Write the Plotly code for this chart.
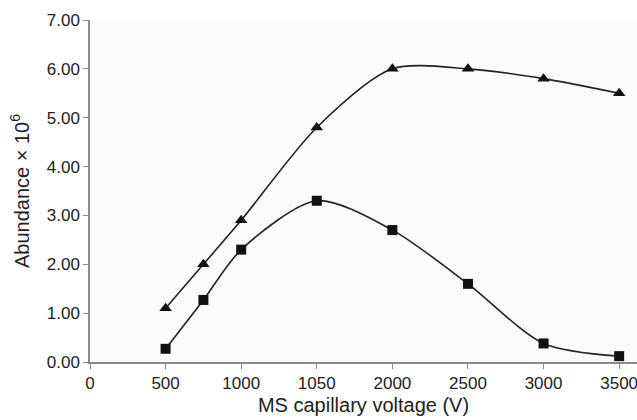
import plotly.graph_objects as go

# Capillary voltage settings (V) and measured abundances (x 10^6)
voltage = [500, 750, 1000, 1500, 2000, 2500, 3000, 3500]
abundance_triangle = [1.10, 2.00, 2.90, 4.80, 6.00, 6.00, 5.80, 5.50]
abundance_square = [0.27, 1.27, 2.30, 3.30, 2.70, 1.60, 0.38, 0.12]

x_tick_values = [0, 500, 1000, 1500, 2000, 2500, 3000, 3500]
x_tick_labels = ["0", "500", "1000", "1050", "2000", "2500", "3000", "3500"]
y_tick_values = [0, 1, 2, 3, 4, 5, 6, 7]
y_tick_labels = ["0.00", "1.00", "2.00", "3.00", "4.00", "5.00", "6.00", "7.00"]

FONT = "Liberation Sans, Arial, sans-serif"

fig = go.Figure()
fig.add_trace(go.Scatter(
    x=voltage, y=abundance_triangle, mode="lines+markers",
    line=dict(color="#222222", width=1.6, shape="spline", smoothing=0.8),
    marker=dict(symbol="triangle-up", size=11, color="#111111"),
    showlegend=False,
))
fig.add_trace(go.Scatter(
    x=voltage, y=abundance_square, mode="lines+markers",
    line=dict(color="#222222", width=1.6, shape="spline", smoothing=0.8),
    marker=dict(symbol="square", size=10, color="#111111"),
    showlegend=False,
))

axis_common = dict(
    showgrid=False, zeroline=False, showline=True,
    linecolor="#8a8a8a", linewidth=1.5,
    ticks="outside", ticklen=5, tickwidth=1.2, tickcolor="#8a8a8a",
    tickfont=dict(family=FONT, size=17, color="#222222"),
    ticklabeloverflow="allow",
)

fig.update_xaxes(
    range=[0, 3618], tickvals=x_tick_values, ticktext=x_tick_labels,
    title=dict(text="MS capillary voltage (V)", standoff=6,
               font=dict(family=FONT, size=20, color="#222222")),
    **axis_common,
)
fig.update_yaxes(
    range=[0, 7], tickvals=y_tick_values, ticktext=y_tick_labels,
    title=dict(text="Abundance × 10<sup>6</sup>", standoff=12,
               font=dict(family=FONT, size=20, color="#222222")),
    **axis_common,
)

fig.update_layout(
    width=637, height=420,
    margin=dict(l=90, r=0, t=20, b=58),
    paper_bgcolor="white", plot_bgcolor="#fbfbfb",
)

fig.write_html("out.html")
